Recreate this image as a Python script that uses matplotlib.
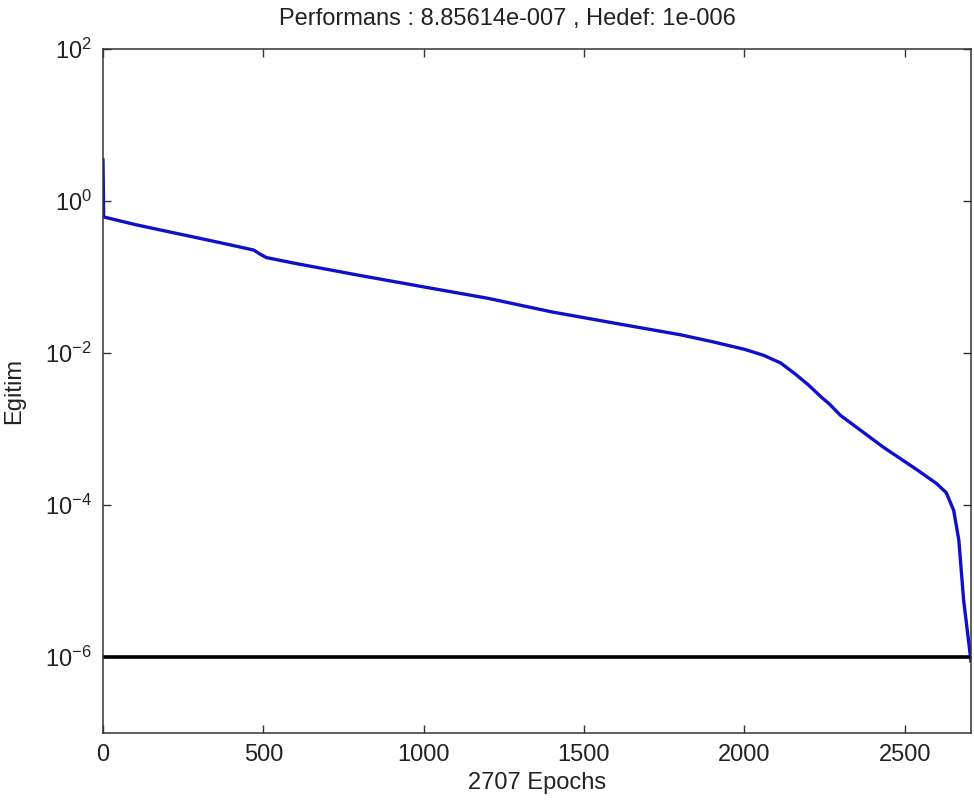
import matplotlib
matplotlib.use("Agg")
import matplotlib.pyplot as plt
from matplotlib.ticker import NullLocator

# training performance (epoch, mse)
EPOCHS = [0, 2, 100, 200, 300, 400, 470, 490, 510, 600, 800, 1000, 1200,
          1400, 1600, 1800, 1900, 2000, 2060, 2113, 2160, 2200, 2240, 2265,
          2300, 2434, 2540, 2600, 2630, 2653, 2669, 2684, 2707]
PERF = [3.47, 0.617, 0.490, 0.398, 0.324, 0.263, 0.226, 0.200, 0.180, 0.151,
        0.105, 0.0741, 0.0525, 0.0347, 0.0245, 0.0174, 0.0141, 0.0112,
        0.00933, 0.00741, 0.00525, 0.00380, 0.00263, 0.00214, 0.00151,
        5.75e-4, 2.88e-4, 1.91e-4, 1.45e-4, 8.5e-5, 3.47e-5, 5.6e-6, 8.856e-7]
GOAL_X = [0, 2707]
GOAL_Y = [1e-6, 1e-6]
XTICKS = [0, 500, 1000, 1500, 2000, 2500]
YTICKS = [1e-6, 1e-4, 1e-2, 1e0, 1e2]

plt.rcParams["font.family"] = ["Liberation Sans", "DejaVu Sans"]
plt.rcParams["mathtext.fontset"] = "custom"
plt.rcParams["mathtext.rm"] = "Liberation Sans"
plt.rcParams["mathtext.it"] = "Liberation Sans"
plt.rcParams["mathtext.bf"] = "Liberation Sans"
plt.rcParams["axes.unicode_minus"] = False

W, H = 974, 811
fig = plt.figure(figsize=(W / 100, H / 100), dpi=100)
ax = fig.add_axes([103 / W, 1 - 733 / H, (971 - 103) / W, (733 - 49) / H])

ax.plot(EPOCHS, PERF, color="#1010cc", lw=2.4, solid_joinstyle="round")
ax.plot(GOAL_X, GOAL_Y, color="black", lw=2.6)

ax.set_yscale("log")
ax.set_xlim(0, 2707)
ax.set_ylim(1e-7, 1e2)
ax.set_xticks(XTICKS)
ax.set_yticks(YTICKS)
ax.yaxis.set_minor_locator(NullLocator())

ax.tick_params(direction="in", length=6, width=1.0, color="#333333",
               labelsize=17, labelcolor="#222222", top=True, right=True, pad=8)
for s in ax.spines.values():
    s.set_color("#333333")
    s.set_linewidth(1.1)

fig.text(507 / W, 1 - 19 / H, "Performans : 8.85614e-007 , Hedef: 1e-006",
         ha="center", va="center", fontsize=17, color="#222222")
ax.set_xlabel("2707 Epochs", fontsize=17, color="#222222", labelpad=4)
ax.set_ylabel("Egitim", fontsize=17, color="#222222", labelpad=14)

fig.savefig("out.png", dpi=100, facecolor="white")
